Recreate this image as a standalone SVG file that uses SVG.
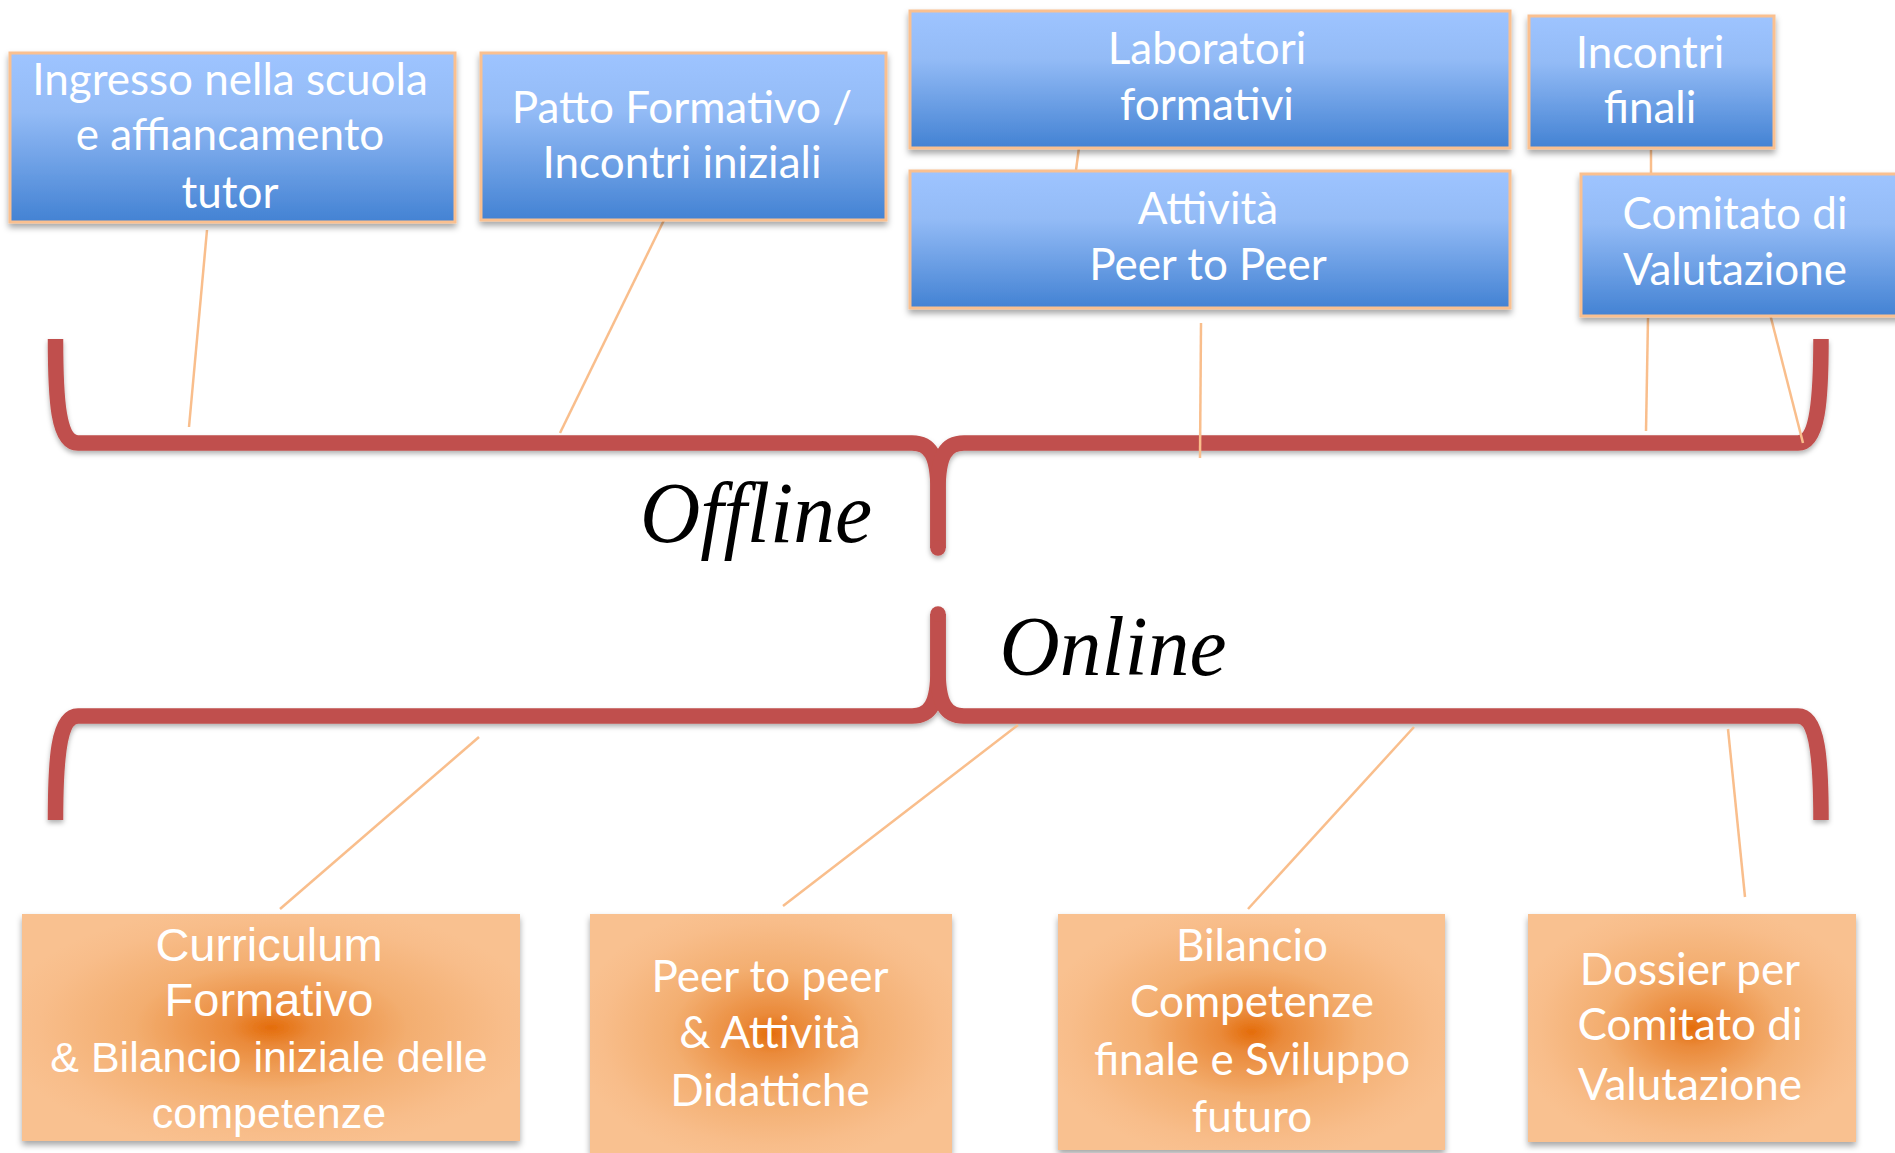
<svg xmlns="http://www.w3.org/2000/svg" width="1895" height="1153" viewBox="0 0 1895 1153">
<defs>
  <linearGradient id="blue" x1="0" y1="0" x2="0" y2="1">
    <stop offset="0" stop-color="#9EC4FF"/>
    <stop offset="0.35" stop-color="#93BBF6"/>
    <stop offset="1" stop-color="#4382D3"/>
  </linearGradient>
  <radialGradient id="orange" cx="0.5" cy="0.5" r="0.55">
    <stop offset="0" stop-color="#E46C0A"/>
    <stop offset="0.15" stop-color="#EA8A3A"/>
    <stop offset="0.5" stop-color="#F3AE70"/>
    <stop offset="0.85" stop-color="#F8BD8A"/>
    <stop offset="1" stop-color="#F9C190"/>
  </radialGradient>
  <filter id="shadow" x="-10%" y="-10%" width="120%" height="130%">
    <feDropShadow dx="0" dy="4" stdDeviation="3" flood-color="#000" flood-opacity="0.35"/>
  </filter>
  <filter id="bshadow" x="-5%" y="-20%" width="110%" height="150%">
    <feDropShadow dx="0" dy="3" stdDeviation="2.5" flood-color="#000" flood-opacity="0.3"/>
  </filter>
</defs>
<style>
  .bluebox { fill: url(#blue); stroke: #FAC090; stroke-width: 3; filter: url(#shadow); }
  .orbox { fill: url(#orange); filter: url(#shadow); }
  .t { font-family: Lato, "Open Sans", sans-serif; font-size: 44px; fill: #FFFFFF; text-anchor: middle; }
  .ta { font-family: "Liberation Sans", Arial, sans-serif; fill: #FFFFFF; text-anchor: middle; }
  .brace { fill: none; stroke: #C0504D; stroke-width: 15.5; stroke-linecap: butt; stroke-linejoin: round; }
  .conn { stroke: #F9BE8C; stroke-width: 2.5; fill: none; }
  .lbl { font-family: "Liberation Serif", "DejaVu Serif", serif; font-style: italic; fill: #000; text-anchor: middle; }
</style>
<rect width="1895" height="1153" fill="#FFFFFF"/>

<g id="braces" filter="url(#bshadow)">
  <path class="brace" d="M 55.5 339 C 55.5 400 58 443 78 443 L 912 443 C 930 443 938 455 938 490 L 938 548"/>
  <path class="brace" d="M 938 548 L 938 490 C 938 455 946 443 964 443 L 1798 443 C 1818 443 1821 400 1821 339"/>
  <circle cx="938" cy="548" r="7.75" fill="#C0504D"/>
  <path class="brace" d="M 55.5 820 C 55.5 760 58 716 78 716 L 912 716 C 930 716 938 704 938 670 L 938 614"/>
  <path class="brace" d="M 938 614 L 938 670 C 938 704 946 716 964 716 L 1798 716 C 1818 716 1821 760 1821 820"/>
  <circle cx="938" cy="614" r="7.75" fill="#C0504D"/>
</g>

<g id="connectors">
  <line class="conn" x1="207" y1="230" x2="189" y2="427"/>
  <line class="conn" x1="665" y1="218" x2="560" y2="433"/>
  <line class="conn" x1="1080" y1="140" x2="1076" y2="170"/>
  <line class="conn" x1="1201" y1="323" x2="1200" y2="458"/>
  <line class="conn" x1="1651" y1="150" x2="1651" y2="173"/>
  <line class="conn" x1="1648" y1="318" x2="1646" y2="431"/>
  <line class="conn" x1="1769" y1="310" x2="1803" y2="443"/>
  <line class="conn" x1="479" y1="737" x2="280" y2="909"/>
  <line class="conn" x1="1018" y1="725" x2="783" y2="906"/>
  <line class="conn" x1="1414" y1="727" x2="1248" y2="909"/>
  <line class="conn" x1="1728" y1="729" x2="1745" y2="897"/>
</g>

<g id="node-ingresso">
  <rect class="bluebox" x="10" y="53" width="445" height="169"/>
  <text class="t"><tspan x="230" y="95">Ingresso nella scuola</tspan><tspan x="230" y="150">e affiancamento</tspan><tspan x="230" y="208">tutor</tspan></text>
</g>
<g id="node-patto">
  <rect class="bluebox" x="481" y="53" width="405" height="167"/>
  <text class="t"><tspan x="682" y="123">Patto Formativo /</tspan><tspan x="682" y="178">Incontri iniziali</tspan></text>
</g>
<g id="node-laboratori">
  <rect class="bluebox" x="910" y="11" width="600" height="137"/>
  <text class="t"><tspan x="1207" y="64">Laboratori</tspan><tspan x="1207" y="120">formativi</tspan></text>
</g>
<g id="node-incontri-finali">
  <rect class="bluebox" x="1529" y="16" width="245" height="132"/>
  <text class="t"><tspan x="1650" y="68">Incontri</tspan><tspan x="1650" y="123">finali</tspan></text>
</g>
<g id="node-attivita">
  <rect class="bluebox" x="910" y="171" width="600" height="137"/>
  <text class="t"><tspan x="1208" y="224">Attività</tspan><tspan x="1208" y="280">Peer to Peer</tspan></text>
</g>
<g id="node-comitato">
  <rect class="bluebox" x="1581" y="174" width="330" height="142"/>
  <text class="t"><tspan x="1735" y="229">Comitato di</tspan><tspan x="1735" y="285">Valutazione</tspan></text>
</g>

<g id="label-offline">
  <text class="lbl" x="756" y="542" font-size="86" textLength="232" lengthAdjust="spacingAndGlyphs">Offline</text>
</g>
<g id="label-online">
  <text class="lbl" x="1113" y="675" font-size="84" textLength="227" lengthAdjust="spacingAndGlyphs">Online</text>
</g>

<g id="node-curriculum">
  <rect class="orbox" x="22" y="914" width="498" height="227"/>
  <text class="ta"><tspan x="269" y="961" font-size="47">Curriculum</tspan><tspan x="269" y="1016" font-size="47">Formativo</tspan><tspan x="269" y="1072" font-size="43">&amp; Bilancio iniziale delle</tspan><tspan x="269" y="1128" font-size="43">competenze</tspan></text>
</g>
<g id="node-peer">
  <rect class="orbox" x="590" y="914" width="362" height="239"/>
  <text class="t"><tspan x="770" y="992">Peer to peer</tspan><tspan x="770" y="1048">&amp; Attività</tspan><tspan x="770" y="1106">Didattiche</tspan></text>
</g>
<g id="node-bilancio">
  <rect class="orbox" x="1058" y="914" width="387" height="236"/>
  <text class="t"><tspan x="1252" y="961">Bilancio</tspan><tspan x="1252" y="1017">Competenze</tspan><tspan x="1252" y="1075">finale e Sviluppo</tspan><tspan x="1252" y="1132">futuro</tspan></text>
</g>
<g id="node-dossier">
  <rect class="orbox" x="1528" y="914" width="328" height="228"/>
  <text class="t"><tspan x="1690" y="985">Dossier per</tspan><tspan x="1690" y="1040">Comitato di</tspan><tspan x="1690" y="1100">Valutazione</tspan></text>
</g>
</svg>
